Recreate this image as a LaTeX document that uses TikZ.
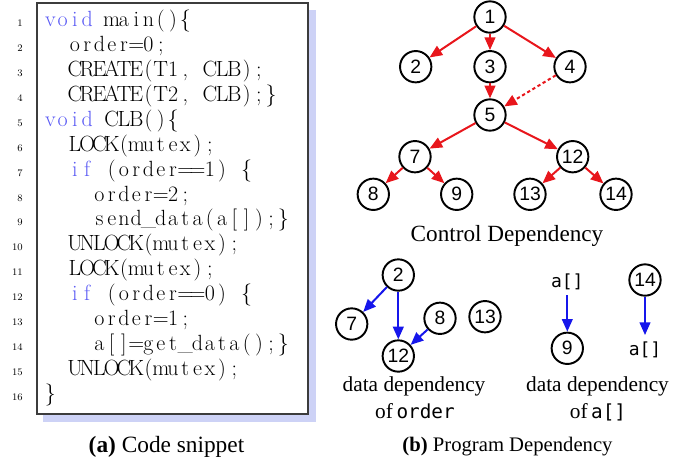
\documentclass[tikz,border=0pt]{standalone}
\usepackage{fontspec}
\usetikzlibrary{arrows.meta}
\newfontfamily\serifc{Liberation Serif}
\newfontfamily\sansc{Liberation Sans}
\newfontfamily\monoc{DejaVu Sans Mono}

\definecolor{edgered}{RGB}{232,22,28}
\definecolor{edgeblue}{RGB}{22,22,235}
\definecolor{kwblue}{RGB}{90,90,245}
\definecolor{shadowc}{RGB}{205,210,246}
\definecolor{framec}{RGB}{60,60,60}

% fixed-width columns for the listing: every token sits centred in its own cell
\newlength\cw
\setlength\cw{9.2pt}
\makeatletter
\def\fcol#1{\fcol@loop#1\fcol@end}
\def\fcol@loop#1{\ifx#1\fcol@end\else\makebox[\cw]{#1}\expandafter\fcol@loop\fi}
\makeatother
\newcommand\kwd[1]{\textcolor{kwblue}{\fcol{#1}}}

\tikzset{
  codeline/.style={anchor=base west, inner sep=0pt, font=\fontsize{16.5pt}{19pt}\selectfont},
  lineno/.style={anchor=base east, inner sep=0pt, font=\fontsize{7.5pt}{9pt}\selectfont},
  cnode/.style={circle, draw, line width=1.45pt, minimum size=23.5pt, inner sep=0pt,
                font=\sansc\fontsize{14.5pt}{15pt}\selectfont},
  arrnode/.style={inner sep=2pt, font=\monoc\fontsize{13.5pt}{14pt}\selectfont},
  tip/.style={-{Triangle[length=9.5pt,width=8pt]}},
  redarr/.style={draw=edgered, line width=1.5pt, tip},
  redarrdash/.style={redarr, dash pattern=on 2.5pt off 2pt},
  bluearr/.style={draw=edgeblue, line width=1.5pt, tip},
  label/.style={anchor=base, inner sep=0pt, font=\serifc\fontsize{16pt}{18pt}\selectfont},
  caption/.style={anchor=base, inner sep=0pt, font=\serifc\fontsize{15.5pt}{18pt}\selectfont},
}

\begin{document}
\begin{tikzpicture}[x=0.75pt, y=-0.75pt]
\useasboundingbox (0,0) rectangle (693,462);

% ---------- code listing ----------
\fill[shadowc] (43,9.5) rectangle (315.5,421.5);
\filldraw[fill=white, draw=framec, line width=1.2pt] (37,3) rectangle (308,414);

\foreach \n in {1,...,16}{
  \node[lineno] (ln\n) at (23, {26.7+(\n-1)*24.9}) {\n};
}
\node[codeline] (c1)  at (44, 26.7)  {\kwd{void}\fcol{~main()\{}};
\node[codeline] (c2)  at (44, 51.6)  {\fcol{~~order=0;}};
\node[codeline] (c3)  at (44, 76.5)  {\fcol{~~CREATE(T1,~CLB);}};
\node[codeline] (c4)  at (44, 101.4) {\fcol{~~CREATE(T2,~CLB);\}}};
\node[codeline] (c5)  at (44, 126.3) {\kwd{void}\fcol{~CLB()\{}};
\node[codeline] (c6)  at (44, 151.2) {\fcol{~~LOCK(mutex);}};
\node[codeline] (c7)  at (44, 176.1) {\fcol{~~}\kwd{if}\fcol{~(order==1)~\{}};
\node[codeline] (c8)  at (44, 201.0) {\fcol{~~~~order=2;}};
\node[codeline] (c9)  at (44, 225.9) {\fcol{~~~~send\textunderscore data(a[]);\}}};
\node[codeline] (c10) at (44, 250.8) {\fcol{~~UNLOCK(mutex);}};
\node[codeline] (c11) at (44, 275.7) {\fcol{~~LOCK(mutex);}};
\node[codeline] (c12) at (44, 300.6) {\fcol{~~}\kwd{if}\fcol{~(order==0)~\{}};
\node[codeline] (c13) at (44, 325.5) {\fcol{~~~~order=1;}};
\node[codeline] (c14) at (44, 350.4) {\fcol{~~~~a[]=get\textunderscore data();\}}};
\node[codeline] (c15) at (44, 375.3) {\fcol{~~UNLOCK(mutex);}};
\node[codeline] (c16) at (44, 400.2) {\fcol{\}}};

\node[caption, font=\serifc\fontsize{17.5pt}{19pt}\selectfont] (capa) at (166.5, 452.5) {\textbf{(a)} Code snippet};

% ---------- control dependency ----------
\node[cnode] (n1)  at (490, 17)      {1};
\node[cnode] (n2)  at (415.7, 66.7)  {2};
\node[cnode] (n3)  at (490, 66.7)    {3};
\node[cnode] (n4)  at (570, 66.7)    {4};
\node[cnode] (n5)  at (490, 115)     {5};
\node[cnode] (n7)  at (415, 156.7)   {7};
\node[cnode] (n12) at (572.7, 156.7) {12};
\node[cnode] (n8)  at (373.3, 194.3) {8};
\node[cnode] (n9)  at (456.7, 194.3) {9};
\node[cnode] (n13) at (530, 194.3)   {13};
\node[cnode] (n14) at (616, 194.3)   {14};

\draw[redarr] (n1) -- (n2);
\draw[redarr] (n1) -- (n3);
\draw[redarr] (n1) -- (n4);
\draw[redarrdash] (n3) -- (n5);
\draw[redarrdash] (n4) -- (n5);
\draw[redarr] (n5) -- (n7);
\draw[redarr] (n5) -- (n12);
\draw[redarr] (n7) -- (n8);
\draw[redarr] (n7) -- (n9);
\draw[redarr] (n12) -- (n13);
\draw[redarr] (n12) -- (n14);

\node[label, font=\serifc\fontsize{17.4pt}{19pt}\selectfont] (cdl) at (507, 241) {Control Dependency};

% ---------- data dependency of order ----------
\node[cnode] (d2)  at (398.3, 275)   {2};
\node[cnode] (d7)  at (351.7, 324)   {7};
\node[cnode] (d12) at (398.3, 356)   {12};
\node[cnode] (d8)  at (440, 318.3)   {8};
\node[cnode] (d13) at (485, 316.7)   {13};

\draw[bluearr] (d2) -- (d7);
\draw[bluearr] (d2) -- (d12);
\draw[bluearr] (d8) -- (d12);

\node[label] (ddo1) at (414, 391.7) {data dependency};
\node[label] (ddo2) at (415, 418) {of\,{\monoc\fontsize{14.5pt}{16pt}\selectfont order}};

% ---------- data dependency of a[] ----------
\node[arrnode] (a1)  at (567.3, 281.7) {a[]};
\node[cnode]   (d9)  at (567.3, 348.3) {9};
\node[cnode]   (d14) at (645, 280)     {14};
\node[arrnode] (a2)  at (645, 350)     {a[]};

\draw[bluearr, shorten <=2pt] (a1) -- (d9);
\draw[bluearr, shorten >=3pt] (d14) -- (a2);

\node[label] (dda1) at (597.5, 391.7) {data dependency};
\node[label] (dda2) at (598, 418) {of\,{\monoc\fontsize{14.5pt}{16pt}\selectfont a[]}};

\node[caption] (capb) at (507.5, 451.7) {\textbf{(b)} Program Dependency};
\end{tikzpicture}
\end{document}
